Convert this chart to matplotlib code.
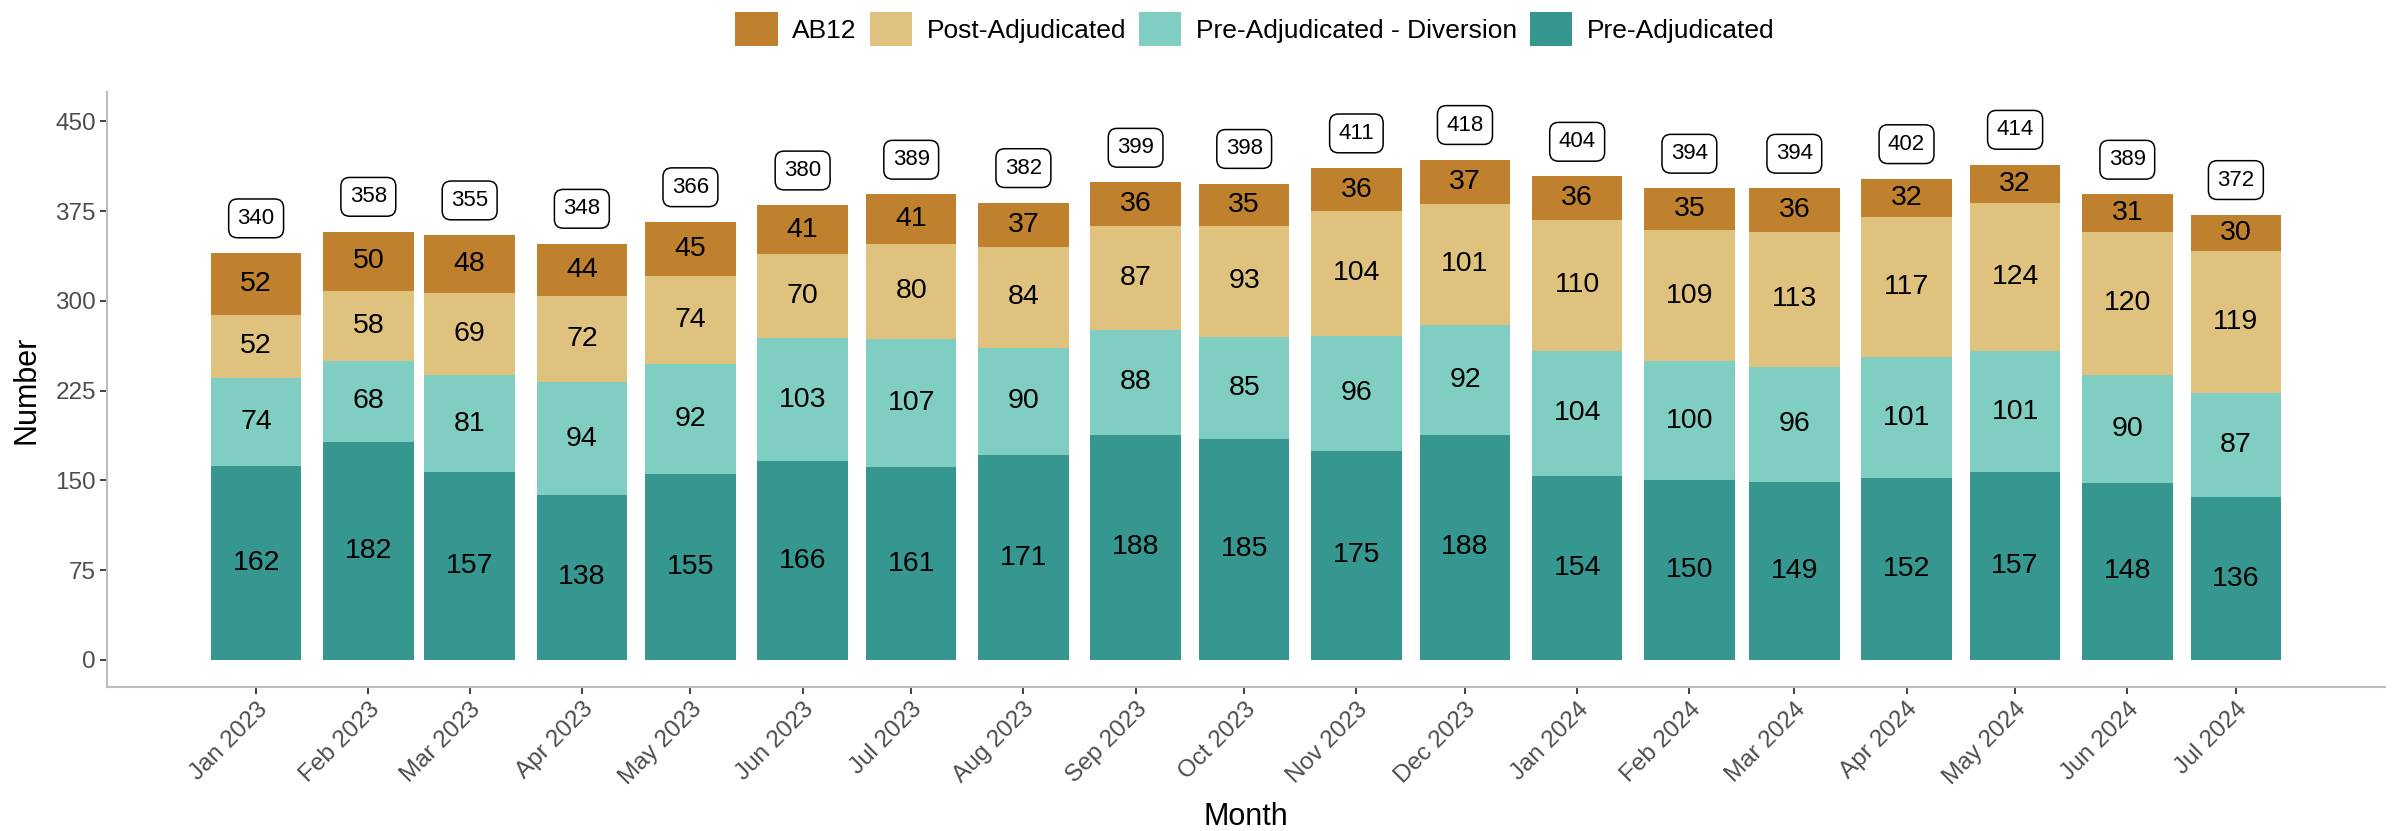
import matplotlib
matplotlib.use('Agg')
import matplotlib.pyplot as plt
import matplotlib.dates as mdates
from matplotlib.patches import Patch
import numpy as np
import pandas as pd

plt.rcParams['font.family'] = ['Liberation Sans', 'DejaVu Sans']

# data
months = pd.date_range('2023-01-01', '2024-07-01', freq='MS')
month_labels = [m.strftime('%b %Y') for m in months]

pre_adj = [162, 182, 157, 138, 155, 166, 161, 171, 188, 185, 175, 188, 154, 150, 149, 152, 157, 148, 136]
pre_div = [74, 68, 81, 94, 92, 103, 107, 90, 88, 85, 96, 92, 104, 100, 96, 101, 101, 90, 87]
post_adj = [52, 58, 69, 72, 74, 70, 80, 84, 87, 93, 104, 101, 110, 109, 113, 117, 124, 120, 119]
ab12 = [52, 50, 48, 44, 45, 41, 41, 37, 36, 35, 36, 37, 36, 35, 36, 32, 32, 31, 30]

series_names = ['Pre-Adjudicated', 'Pre-Adjudicated - Diversion', 'Post-Adjudicated', 'AB12']
series_values = [pre_adj, pre_div, post_adj, ab12]
colors = ['#35978F', '#80CDC1', '#DFC27D', '#BF812D']


def main():
    fig = plt.figure(figsize=(24, 8.31), dpi=100)
    ax = fig.add_axes([107 / 2400, 1 - 687 / 831, (2385 - 107) / 2400, (687 - 92) / 831])

    x = mdates.date2num(months.to_pydatetime())
    bottom = np.zeros(len(months))
    for name, vals, col in zip(series_names, series_values, colors):
        vals = np.array(vals)
        ax.bar(x, vals, bottom=bottom, width=25, color=col, label=name)
        for xi, b, v in zip(x, bottom, vals):
            ax.text(xi, b + v / 2, str(v), ha='center', va='center', fontsize=20.5, color='black')
        bottom = bottom + vals

    # totals in rounded boxes
    for xi, t in zip(x, bottom):
        ax.text(xi, t + 29, str(int(t)), ha='center', va='center', fontsize=16,
                bbox=dict(boxstyle='round,pad=0.4,rounding_size=0.4', fc='white', ec='black', lw=1.1))

    ax.set_xlim(x[0] - 41.2, x[-1] + 41.2)
    ax.set_ylim(-22.6, 474.6)
    ax.set_yticks(np.arange(0, 451, 75))
    ax.set_xticks(x)
    ax.set_xticklabels(month_labels, rotation=45, ha='right', rotation_mode='anchor')

    for s in ['top', 'right']:
        ax.spines[s].set_visible(False)
    for s in ['left', 'bottom']:
        ax.spines[s].set_color('#BEBEBE')
        ax.spines[s].set_linewidth(1.5)
    ax.tick_params(axis='both', length=5, width=1.3, color='#333333',
                   labelsize=17.5, labelcolor='#4D4D4D', pad=3)

    ax.set_xlabel('Month', fontsize=22, labelpad=9)
    ax.set_ylabel('Number', fontsize=22, labelpad=10)

    handles = [Patch(facecolor=c) for c in colors[::-1]]
    fig.legend(handles, series_names[::-1], loc='center', ncol=4,
               bbox_to_anchor=(1255 / 2400, 1 - 29 / 831), frameon=False,
               fontsize=19, handlelength=1.6, handleheight=1.6,
               handletextpad=0.55, columnspacing=0.5)

    fig.savefig('out.png', dpi=100)


if __name__ == '__main__':
    main()
